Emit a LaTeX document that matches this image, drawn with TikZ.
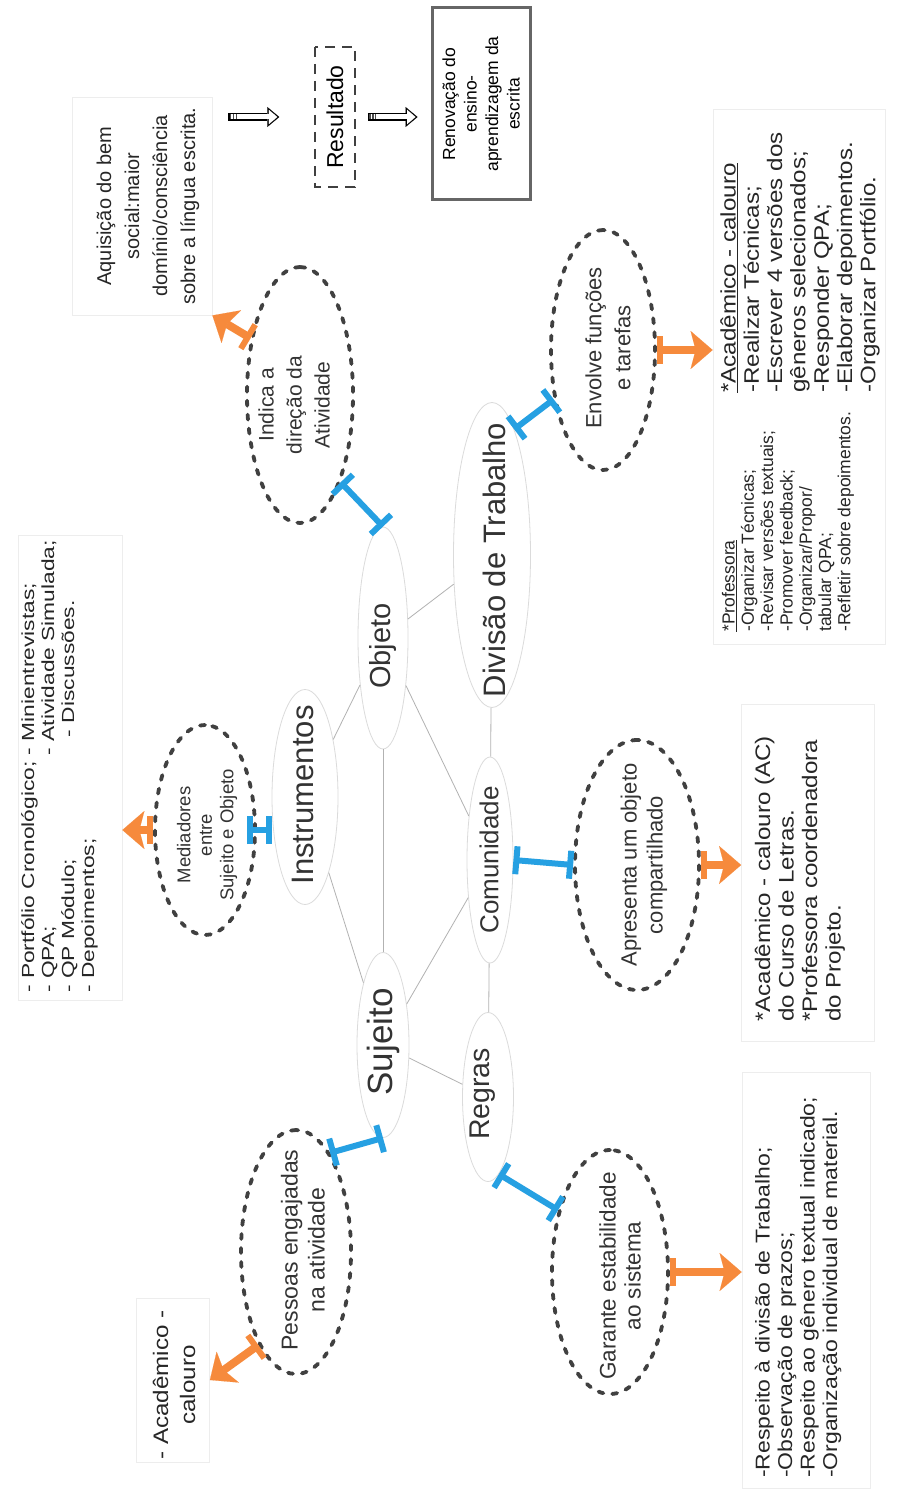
\documentclass[tikz,border=0pt]{standalone}
\usepackage{fontspec}
\setmainfont{Liberation Sans}
\newfontfamily\widefont[FakeStretch=1.15]{Liberation Sans}
\newfontfamily\toolfont[FakeStretch=1.3]{Liberation Sans}
\usetikzlibrary{shapes.geometric,arrows.meta}

\definecolor{linkblue}{RGB}{38,160,226}
\definecolor{linkorange}{RGB}{246,138,60}
\newcommand{\setfs}[2]{\fontsize{#1}{#2}\selectfont}

\begin{document}
\begin{tikzpicture}
        [
        x=1pt, y=-1pt,
        hub/.style={ellipse, draw=black!14, line width=0.8pt, rotate=90, inner sep=0pt},
        hubtext/.style={rotate=90, text=black!80, inner sep=0pt},
        dashnote/.style={ellipse, draw=black!75, line width=3.8pt, dash pattern=on 5pt off 9pt, line cap=round, rotate=90, inner sep=0pt},
        notetext/.style={rotate=90, align=center, text=black!80, inner sep=0pt},
        textbox/.style={rectangle, draw=black!7, line width=0.8pt, rotate=90, inner sep=0pt},
        boxtext/.style={rotate=90, align=left, text=black!85, inner sep=0pt},
        tie/.style={draw=black!30, line width=0.8pt},
        bluelink/.style={draw=linkblue, line width=6pt, arrows={Bar[width=28pt,line width=6pt]-Bar[width=28pt,line width=6pt]}},
        orangelink/.style={draw=linkorange, line width=8pt, arrows={Bar[width=28pt,line width=6pt]-Stealth[width=38pt,length=22pt,inset=5pt,line width=0.1pt]}}
        ]

        \fill[white] (0,0) rectangle (896,1495);
        \useasboundingbox (0,0) rectangle (896,1495);

        % activity system
        \node[hub, minimum width=222pt, minimum height=50pt] (obj) at (383,638) {};
        \node[hub, minimum width=215pt, minimum height=66pt] (inst) at (305,797) {};
        \node[hub, minimum width=305pt, minimum height=77pt] (div) at (492,555) {};
        \node[hub, minimum width=206pt, minimum height=46pt] (com) at (490,860) {};
        \node[hub, minimum width=185pt, minimum height=52pt] (suj) at (383,1045) {};
        \node[hub, minimum width=169pt, minimum height=51pt] (reg) at (488,1097) {};

        \node[hubtext, font=\setfs{29}{30}] (objtxt) at (383,646) {Objeto};
        \node[hubtext, font=\setfs{31}{32}] (insttxt) at (303,795) {Instrumentos};
        \node[hubtext, font=\setfs{31}{32}] (divtxt) at (494,560) {Divisão de Trabalho};
        \node[hubtext, font=\setfs{26}{27}] (comtxt) at (489,860) {Comunidade};
        \node[hubtext, font=\setfs{35}{36}] (sujtxt) at (383,1042) {Sujeito};
        \node[hubtext, font=\setfs{28.5}{29}] (regtxt) at (483,1094) {Regras};

        \draw[tie] (inst) -- (obj);
        \draw[tie] (obj) -- (div);
        \draw[tie] (obj) -- (com);
        \draw[tie] (obj) -- (suj);
        \draw[tie] (div) -- (com);
        \draw[tie] (inst) -- (suj);
        \draw[tie] (suj) -- (com);
        \draw[tie] (suj) -- (reg);
        \draw[tie] (com) -- (reg);

        % dashed notes
        \node[dashnote, minimum width=256pt, minimum height=106pt] (ind) at (300,395) {};
        \node[dashnote, minimum width=240pt, minimum height=104pt] (env) at (603,350) {};
        \node[dashnote, minimum width=210pt, minimum height=100pt] (med) at (205,830) {};
        \node[dashnote, minimum width=250pt, minimum height=124pt] (apr) at (637,865) {};
        \node[dashnote, minimum width=244pt, minimum height=110pt] (pes) at (296,1252) {};
        \node[dashnote, minimum width=244pt, minimum height=116pt] (gar) at (610,1272) {};

        \node[notetext, font=\setfs{21}{28}] (indtxt) at (294,405) {Indica a\\direção da\\Atividade};
        \node[notetext, font=\setfs{22}{29}] (envtxt) at (608,348) {Envolve funções\\e tarefas};
        \node[notetext, font=\setfs{18.5}{21.5}] (medtxt) at (207,835) {Mediadores\\entre\\Sujeito e Objeto};
        \node[notetext, font=\setfs{22}{26}] (aprtxt) at (644,865) {Apresenta um objeto\\compartilhado};
        \node[notetext, font=\setfs{23}{27}] (pestxt) at (303,1250) {Pessoas engajadas\\na atividade};
        \node[notetext, font=\setfs{22.5}{25}] (gartxt) at (620,1276) {Garante estabilidade\\ao sistema};

        % text boxes
        \node[textbox, minimum width=218pt, minimum height=140pt] (aquis) at (142,206) {};
        \node[boxtext, align=center, font=\setfs{20}{28}] (aquistxt) at (148,206) {Aquisição do bem\\social:maior\\domínio/consciência\\sobre a língua escrita.};
        \node[textbox, draw=black!75, line width=1.5pt, dash pattern=on 10pt off 7pt, minimum width=140pt, minimum height=40pt, font=\setfs{23}{24}] (result) at (335,117) {Resultado};
        \node[textbox, draw=black!60, line width=3pt, minimum width=192pt, minimum height=98pt, align=center, font=\setfs{17.5}{21.5}] (renov) at (481,104) {Renovação do\\ensino-\\aprendizagem da\\escrita};

        \node[textbox, minimum width=465pt, minimum height=104pt] (tools) at (70,768) {};
        \node[boxtext, anchor=west, font=\toolfont\setfs{17.5}{20}] (toolstxt) at (60,993) {\begin{tabular}{@{}l@{\ }l@{}}- Portfólio Cronológico; & - Minientrevistas;\\- QPA; & - Atividade Simulada;\\- QP Módulo; & \hspace{18pt}- Discussões.\\- Depoimentos; & \end{tabular}};

        \node[textbox, minimum width=535pt, minimum height=172pt] (tasks) at (799,377) {};
        \node[boxtext, anchor=west, font=\setfs{17.5}{19.3}] (proftxt) at (788,632) {\underline{*Professora}\\-Organizar Técnicas;\\-Revisar versões textuais;\\-Promover feedback;\\-Organizar/Propor/\\tabular QPA;\\-Refletir sobre depoimentos.};
        \node[boxtext, anchor=west, font=\widefont\setfs{21}{23.3}] (acadtxt) at (800,393) {\underline{*Acadêmico - calouro}\\-Realizar Técnicas;\\-Escrever 4 versões dos\\gêneros selecionados;\\-Responder QPA;\\-Elaborar depoimentos.\\-Organizar Portfólio.};

        \node[textbox, minimum width=337pt, minimum height=133pt] (ac) at (808,873) {};
        \node[boxtext, anchor=west, font=\widefont\setfs{21}{23.5}] (actxt) at (800,1022) {*Acadêmico - calouro (AC)\\do Curso de Letras.\\*Professora coordenadora\\do Projeto.};

        \node[textbox, minimum width=416pt, minimum height=128pt] (resp) at (806,1280) {};
        \node[boxtext, anchor=west, font=\widefont\setfs{20}{22.5}] (resptxt) at (798,1478) {-Respeito à divisão de Trabalho;\\-Observação de prazos;\\-Respeito ao gênero textual indicado;\\-Organização individual de material.};

        \node[textbox, minimum width=164pt, minimum height=73pt] (acal) at (173,1380) {};
        \node[boxtext, align=center, font=\widefont\setfs{21}{27}] (acaltxt) at (174,1385) {- Acadêmico -\\calouro};

        % links
        \draw[bluelink] (obj.east) -- (ind.-155);
        \draw[bluelink] (div.-10) -- (env.135);
        \draw[bluelink, shorten <=-10pt] (med.south) -- (med.south -| inst.north);
        \draw[bluelink] (com.south) -- (apr.north);
        \draw[bluelink] (suj.west) -- (pes.-19);
        \draw[bluelink] (reg.-172) -- (gar.40);

        \draw[orangelink] (ind.41) -- (aquis.south west);
        \draw[orangelink] (med.north) -- (med.north -| tools.south);
        \draw[orangelink] (pes.158) -- (acal.south);
        \draw[orangelink] (gar.south) -- (gar.south -| resp.north);
        \draw[orangelink] (apr.south) -- (apr.south -| ac.north);
        \draw[orangelink] (env.south) -- (env.south -| tasks.north);

        % result chain
        \draw[line width=8pt, -{Triangle[length=12pt,width=20pt,line width=0.1pt]}, shorten <=16pt, shorten >=35pt] (aquis.south |- result) -- (result.north);
        \draw[white, line width=5pt, -{Triangle[length=8.5pt,width=14.5pt,line width=0.1pt]}, shorten <=17.5pt, shorten >=37pt] (aquis.south |- result) -- (result.north);
        \draw[black!70, line width=5pt, dash pattern=on 1.5pt off 1.5pt, shorten <=17.5pt, shorten >=77pt] (aquis.south |- result) -- (result.north);
        \draw[line width=8pt, -{Triangle[length=12pt,width=20pt,line width=0.1pt]}, shorten <=12pt, shorten >=13pt] (result.south) -- (result.south -| renov.north);
        \draw[white, line width=5pt, -{Triangle[length=8.5pt,width=14.5pt,line width=0.1pt]}, shorten <=13.5pt, shorten >=15pt] (result.south) -- (result.south -| renov.north);
        \draw[black!70, line width=5pt, dash pattern=on 1.5pt off 1.5pt, shorten <=13.5pt, shorten >=55pt] (result.south) -- (result.south -| renov.north);

    \end{tikzpicture}
\end{document}
